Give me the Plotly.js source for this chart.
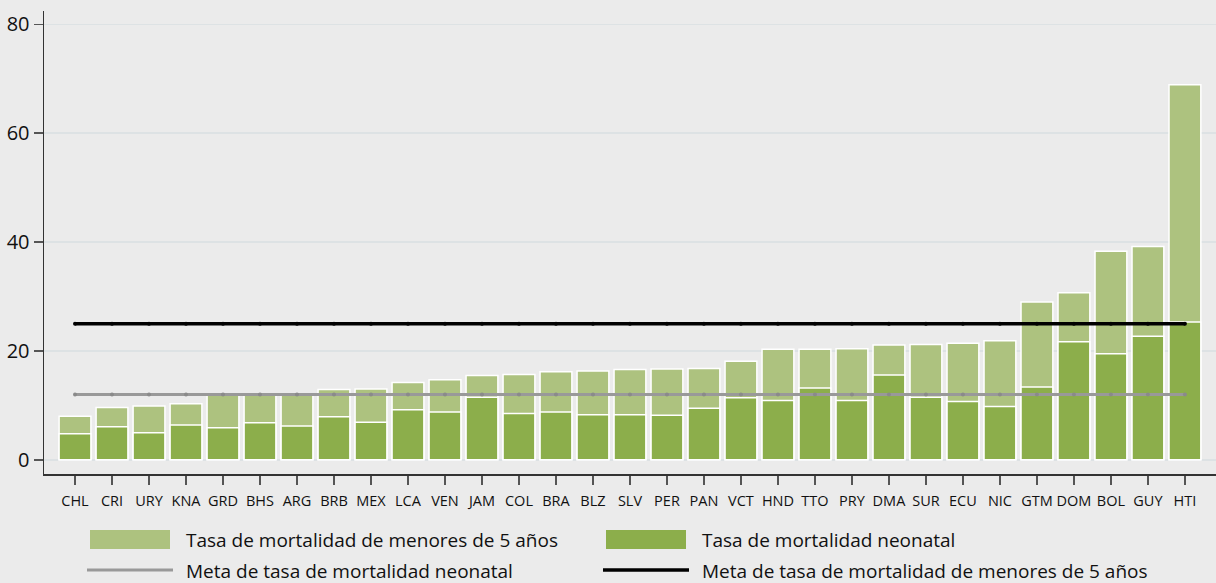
<!DOCTYPE html>
<html>
<head>
<meta charset="utf-8">
<script src="https://cdn.plot.ly/plotly-3.0.1.min.js"></script>
<style>
html,body{margin:0;padding:0;background:#ebebeb;}
#chart{width:1216px;height:583px;}
</style>
</head>
<body>
<div id="chart"></div>
<script>
const countries = ["CHL","CRI","URY","KNA","GRD","BHS","ARG","BRB","MEX","LCA","VEN","JAM","COL","BRA","BLZ","SLV","PER","PAN","VCT","HND","TTO","PRY","DMA","SUR","ECU","NIC","GTM","DOM","BOL","GUY","HTI"];
const under5 = [8.0,9.6,9.9,10.3,11.9,11.9,11.9,12.9,13.0,14.2,14.7,15.5,15.7,16.2,16.3,16.6,16.7,16.8,18.1,20.3,20.3,20.4,21.1,21.2,21.4,21.9,29.0,30.7,38.3,39.2,68.9];
const neonatal = [4.8,6.1,5.0,6.4,5.9,6.8,6.2,7.9,6.9,9.2,8.8,11.5,8.5,8.8,8.3,8.3,8.2,9.5,11.4,10.9,13.2,10.9,15.6,11.5,10.7,9.8,13.4,21.7,19.5,22.7,25.3];
const metaNeonatal = [12,12,12,12,12,12,12,12,12,12,12,12,12,12,12,12,12,12,12,12,12,12,12,12,12,12,12,12,12,12,12];
const metaUnder5 = [25,25,25,25,25,25,25,25,25,25,25,25,25,25,25,25,25,25,25,25,25,25,25,25,25,25,25,25,25,25,25];
const yTicks = [0,20,40,60,80];
const legendLabels = ["Tasa de mortalidad de menores de 5 años","Tasa de mortalidad neonatal","Meta de tasa de mortalidad neonatal","Meta de tasa de mortalidad de menores de 5 años"];

const colLight = "#adc27f";
const colDark = "#8cae4b";
const colGray = "#999999";
const colBlack = "#000000";

const W = 1216, H = 583;
const ml = 44, mr = 0, mt = 11, mb = 109;
const pw = W - ml - mr, ph = H - mt - mb;
const px = v => (v - ml) / pw;
const py = v => (H - mb - v) / ph;

const traces = [
  {type:"bar", x:countries, y:under5, name:legendLabels[0], width:0.86,
   marker:{color:colLight, line:{color:"#ffffff", width:1.5}}},
  {type:"bar", x:countries, y:neonatal, name:legendLabels[1], width:0.86,
   marker:{color:colDark, line:{color:"#ffffff", width:1.5}}},
  {type:"scatter", mode:"lines+markers", x:countries, y:metaNeonatal, name:legendLabels[2],
   line:{color:colGray, width:3}, marker:{color:"#8a8a8a", size:4}},
  {type:"scatter", mode:"lines+markers", x:countries, y:metaUnder5, name:legendLabels[3],
   line:{color:colBlack, width:3.5}, marker:{color:colBlack, size:4}}
];

const font = "'Open Sans', 'Noto Sans', sans-serif";
const shapes = [
  {type:"rect", xref:"paper", yref:"paper", x0:px(90), x1:px(170), y0:py(549), y1:py(530), fillcolor:colLight, line:{width:0}},
  {type:"rect", xref:"paper", yref:"paper", x0:px(606), x1:px(686), y0:py(549), y1:py(530), fillcolor:colDark, line:{width:0}},
  {type:"line", xref:"paper", yref:"paper", x0:px(87), x1:px(173), y0:py(570), y1:py(570), line:{color:colGray, width:3}},
  {type:"line", xref:"paper", yref:"paper", x0:px(603), x1:px(689), y0:py(570), y1:py(570), line:{color:colBlack, width:3.5}}
];
const legPos = [[184,540],[700,540],[184,571],[700,571]];
const annotations = legendLabels.map((t,i) => ({
  text:t, xref:"paper", yref:"paper", x:px(legPos[i][0]), y:py(legPos[i][1]),
  xanchor:"left", yanchor:"middle", showarrow:false,
  font:{family:font, size:19, color:"#111111"}
}));

const layout = {
  width:W, height:H,
  margin:{l:ml, r:mr, t:mt, b:mb, pad:0},
  paper_bgcolor:"#ebebeb", plot_bgcolor:"#ebebeb",
  barmode:"overlay", showlegend:false,
  font:{family:font, color:"#111111"},
  xaxis:{type:"category", range:[-0.838, 30.84], showgrid:false, zeroline:false,
    showline:true, linecolor:"#333333", linewidth:1.5,
    ticks:"outside", ticklen:9, tickwidth:1.5, tickcolor:"#555555", ticklabelstandoff:4,
    tickfont:{family:font, size:14.5, color:"#111111"}, tickangle:0},
  yaxis:{range:[-2.6, 82.45], tickvals:yTicks, showgrid:true, gridcolor:"#dde2e4", gridwidth:1.5,
    zeroline:false, showline:true, linecolor:"#333333", linewidth:1.5,
    ticks:"outside", ticklen:9, tickwidth:1.5, tickcolor:"#555555",
    tickfont:{family:font, size:20, color:"#111111"}},
  shapes:shapes, annotations:annotations
};

Plotly.newPlot("chart", traces, layout, {displayModeBar:false, staticPlot:true});
</script>
</body>
</html>
